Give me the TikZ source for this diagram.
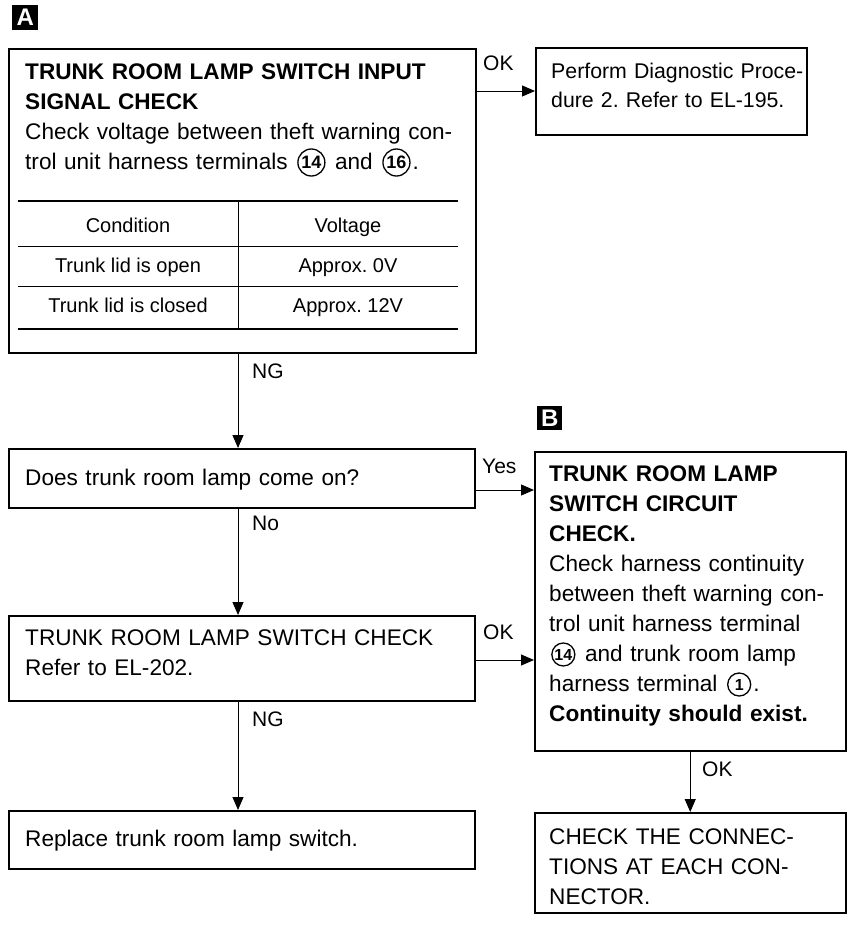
\documentclass[tikz,border=0pt]{standalone}
\usepackage{fontspec}
\setmainfont{Liberation Sans}
\usetikzlibrary{arrows.meta}
\frenchspacing
% circled terminal number: #1 radius, #2 font size, #3 number
\newcommand{\cn}[3]{\hspace{2pt}\tikz[baseline=0pt]{\draw[line width=1.3pt] (0pt,6.5pt) circle[radius=#1]; \node[inner sep=0pt, anchor=center, font=\fontsize{#2}{#2}\selectfont\bfseries] (cnx) at (0pt,6.5pt) {#3};}\hspace{2pt}}
\tikzset{
  box/.style={draw, line width=1.5pt, inner sep=0pt, anchor=north west},
  txt/.style={anchor=base west, inner sep=0pt, align=left, text width=440pt, font=\fontsize{22.6}{30}\selectfont},
  lbl/.style={anchor=base west, inner sep=0pt, font=\fontsize{21}{21}\selectfont},
  tbl/.style={anchor=base, inner sep=0pt, font=\fontsize{20}{20}\selectfont},
  arr/.style={line width=1pt, -{Triangle[length=13pt,width=11pt]}},
  badge/.style={fill=black, text=white, anchor=north west, inner sep=0pt, minimum width=26pt, minimum height=25pt, font=\fontsize{24}{24}\selectfont\bfseries},
  thick rule/.style={line width=2.6pt},
  thin rule/.style={line width=1pt}
}
\begin{document}
\begin{tikzpicture}[x=1pt,y=-1pt]
\useasboundingbox[fill=white] (0,0) rectangle (850,926);
% badges
\node[badge] (ba) at (12,5) {A};
\node[badge, minimum width=25pt, minimum height=24pt] (bb) at (537,406) {B};
% boxes
\node[box, minimum width=467pt, minimum height=304pt] (b1) at (8,48) {};
\node[box, minimum width=271pt, minimum height=87pt] (b2) at (535,47) {};
\node[box, minimum width=466pt, minimum height=59pt] (b3) at (8,448) {};
\node[box, minimum width=311pt, minimum height=299pt] (bB) at (534,451) {};
\node[box, minimum width=466pt, minimum height=85pt] (b4) at (8,615) {};
\node[box, minimum width=466pt, minimum height=58pt] (b5) at (8,810) {};
\node[box, minimum width=311pt, minimum height=100pt] (b6) at (534,812) {};
% texts
\node[txt] (t1) at (25,79) {\textbf{TRUNK ROOM LAMP SWITCH INPUT}\\\textbf{SIGNAL CHECK}\\Check voltage between theft warning con-\\trol unit harness terminals \cn{13.5pt}{18}{14} and \cn{13.5pt}{18}{16}.};
\node[txt, font=\fontsize{21.3}{29}\selectfont] (t2) at (551,78) {Perform Diagnostic Proce-\\dure 2. Refer to EL-195.};
\node[txt] (t3) at (25,485) {Does trunk room lamp come on?};
\node[txt] (tB) at (549,481) {\textbf{TRUNK ROOM LAMP}\\\textbf{SWITCH CIRCUIT}\\\textbf{CHECK.}\\Check harness continuity\\between theft warning con-\\trol unit harness terminal\\\cn{11.5pt}{16}{14} and trunk room lamp\\harness terminal \cn{11.5pt}{16}{1}.\\\textbf{Continuity should exist.}};
\node[txt] (t4) at (25,645) {TRUNK ROOM LAMP SWITCH CHECK\\Refer to EL-202.};
\node[txt] (t5) at (25,846) {Replace trunk room lamp switch.};
\node[txt] (t6) at (549,844) {CHECK THE CONNEC-\\TIONS AT EACH CON-\\NECTOR.};
% table
\draw[thick rule] (18,201) -- (458,201);
\draw[thin rule] (18,246) -- (458,246);
\draw[thin rule] (18,286) -- (458,286);
\draw[thick rule] (18,329) -- (458,329);
\draw[thin rule] (238,201) -- (238,329);
\node[tbl] (h1) at (128,232) {Condition};
\node[tbl] (h2) at (348,232) {Voltage};
\node[tbl] (r1a) at (128,272) {Trunk lid is open};
\node[tbl] (r1b) at (348,272) {Approx. 0V};
\node[tbl] (r2a) at (128,312) {Trunk lid is closed};
\node[tbl] (r2b) at (348,312) {Approx. 12V};
% connectors
\coordinate (cx) at (238,0);
\coordinate (y1) at (0,91);
\coordinate (y2) at (0,490);
\coordinate (y3) at (0,660);
\draw[arr] (b1.east |- y1) -- (b2.west |- y1);
\draw[arr] (cx |- b1.south) -- (cx |- b3.north);
\draw[arr] (b3.east |- y2) -- (bB.west |- y2);
\draw[arr] (cx |- b3.south) -- (cx |- b4.north);
\draw[arr] (b4.east |- y3) -- (bB.west |- y3);
\draw[arr] (cx |- b4.south) -- (cx |- b5.north);
\draw[arr] (bB.south) -- (b6.north);
% labels
\node[lbl] (l1) at (483,70) {OK};
\node[lbl] (l2) at (252,378) {NG};
\node[lbl] (l3) at (482,473) {Yes};
\node[lbl] (l4) at (252,530) {No};
\node[lbl] (l5) at (483,639) {OK};
\node[lbl] (l6) at (252,726) {NG};
\node[lbl] (l7) at (702,776) {OK};
\end{tikzpicture}
\end{document}
